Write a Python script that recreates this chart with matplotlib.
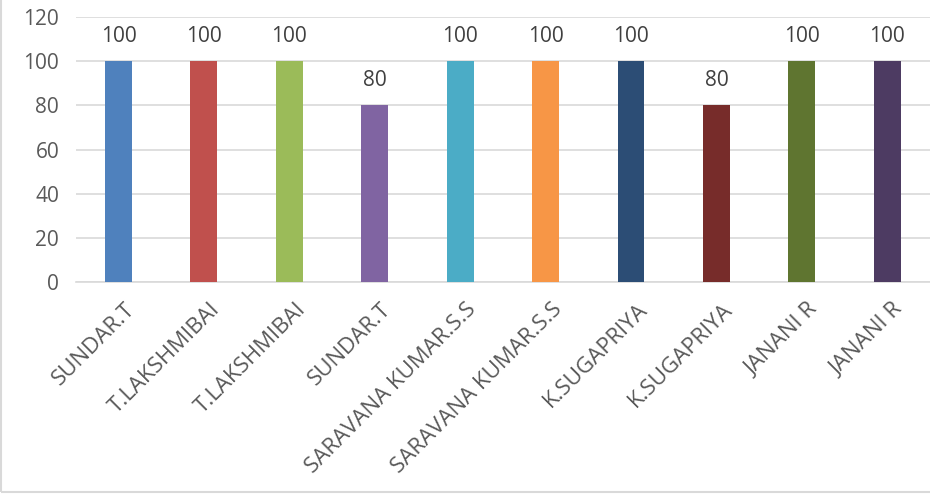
import matplotlib.pyplot as plt
import matplotlib.patches as patches
import matplotlib.transforms as mtrans

# ---------------- data ----------------
names = ['SUNDAR.T', 'T.LAKSHMIBAI', 'T.LAKSHMIBAI', 'SUNDAR.T',
         'SARAVANA KUMAR.S.S', 'SARAVANA KUMAR.S.S', 'K.SUGAPRIYA',
         'K.SUGAPRIYA', 'JANANI R', 'JANANI R']
scores = [100, 100, 100, 80, 100, 100, 100, 80, 100, 100]
bar_colors = ['#4F81BD', '#C0504D', '#9BBB59', '#8064A2', '#4BACC6',
              '#F79646', '#2C4D75', '#772C2A', '#5F7530', '#4D3B62']
yticks = [0, 20, 40, 60, 80, 100, 120]

plt.rcParams['font.family'] = ['Open Sans', 'DejaVu Sans']
txt_col = '#595959'
grid_col = '#d9d9d9'

fig = plt.figure(figsize=(9.3, 4.94), dpi=100, facecolor='w')
ax = fig.add_axes([0.0815, 0.429, 0.9185, 0.5365])

x = list(range(len(names)))
ax.bar(x, scores, width=0.315, color=bar_colors, zorder=3)

for xi, v in zip(x, scores):
    ax.annotate(str(v), (xi, v), xytext=(0, 10), textcoords='offset points',
                ha='center', va='bottom', fontsize=15, color='#404040')

ax.set_ylim(0, 120)
ax.set_xlim(-0.5, 9.5)
ax.set_yticks(yticks)
ax.yaxis.grid(True, color=grid_col, linewidth=1.2, zorder=0)
ax.set_axisbelow(True)
for s in ['top', 'right', 'left']:
    ax.spines[s].set_visible(False)
ax.spines['bottom'].set_color(grid_col)
ax.spines['bottom'].set_linewidth(1.2)
ax.tick_params(axis='y', length=0, labelsize=15, colors=txt_col, pad=12)
ax.set_xticks(x)
ax.set_xticklabels(names, rotation=45, ha='right', va='top',
                   rotation_mode='anchor')
ax.tick_params(axis='x', length=0, labelsize=16, colors=txt_col, pad=12)
# nudge category labels a little to the right like the original
shift = mtrans.ScaledTranslation(4 / 72, 0, fig.dpi_scale_trans)
for lab in ax.get_xticklabels():
    lab.set_transform(lab.get_transform() + shift)

# chart border
fig.patches.append(patches.Rectangle((0.001, 0.004), 1.2, 1.2,
                                     transform=fig.transFigure,
                                     fill=False, edgecolor=grid_col,
                                     linewidth=1.5))

plt.savefig('out.png', dpi=100)
